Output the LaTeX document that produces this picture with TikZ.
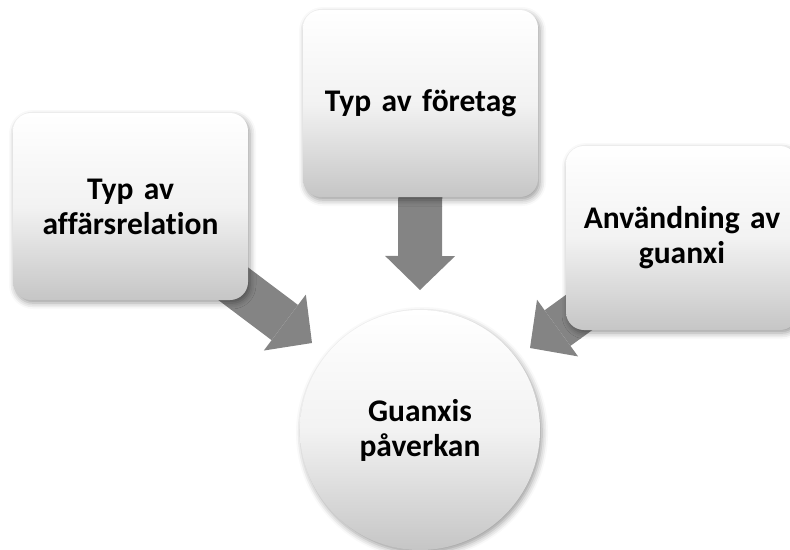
\documentclass[tikz,border=0pt]{standalone}
\usepackage{fontspec}
\setmainfont{Carlito}[Ligatures=NoCommon]
\usetikzlibrary{arrows.meta,shadows.blur,backgrounds}
\begin{document}
\begin{tikzpicture}[x=1pt,y=-1pt,
  shade/.style={top color=white, bottom color=gray!45, middle color=gray!10, draw=none},
  boxshadow/.style={blur shadow={shadow xshift=2pt, shadow yshift=-3pt, shadow blur radius=6pt, shadow opacity=40}},
  box/.style={shade, boxshadow, rounded corners=18pt, minimum width=235pt, minimum height=187pt,
    inner sep=0pt, align=center, text width=230pt, font=\bfseries\fontsize{31.5}{35}\selectfont},
  circ/.style={shade, boxshadow, circle, minimum size=240pt, inner sep=0pt, align=center,
    font=\bfseries\fontsize{31.5}{35}\selectfont},
  bigarrow/.style={line width=44pt, draw={rgb,255:red,132;green,132;blue,132},
    -{Triangle[length=34pt,width=70pt,line width=0pt]}}]
\useasboundingbox (0,0) rectangle (790,549);
\coordinate (le) at (312,343);
\coordinate (te) at (420,290);
\coordinate (re) at (530,348);
\node[box] (l) at (130.5,206.5) {Typ av\\affärsrelation};
\node[box] (t) at (420.5,103.5) {Typ av företag};
\node[box, minimum width=232pt, minimum height=184pt] (r) at (682,238) {Användning av\\guanxi};
\node[circ] (g) at (420,430) {Guanxis\\påverkan};
\begin{scope}[on background layer]
  \draw[bigarrow] (l.center) -- (le);
  \draw[bigarrow] (t.center) -- (te);
  \draw[bigarrow] (r.center) -- (re);
\end{scope}
\end{tikzpicture}
\end{document}
